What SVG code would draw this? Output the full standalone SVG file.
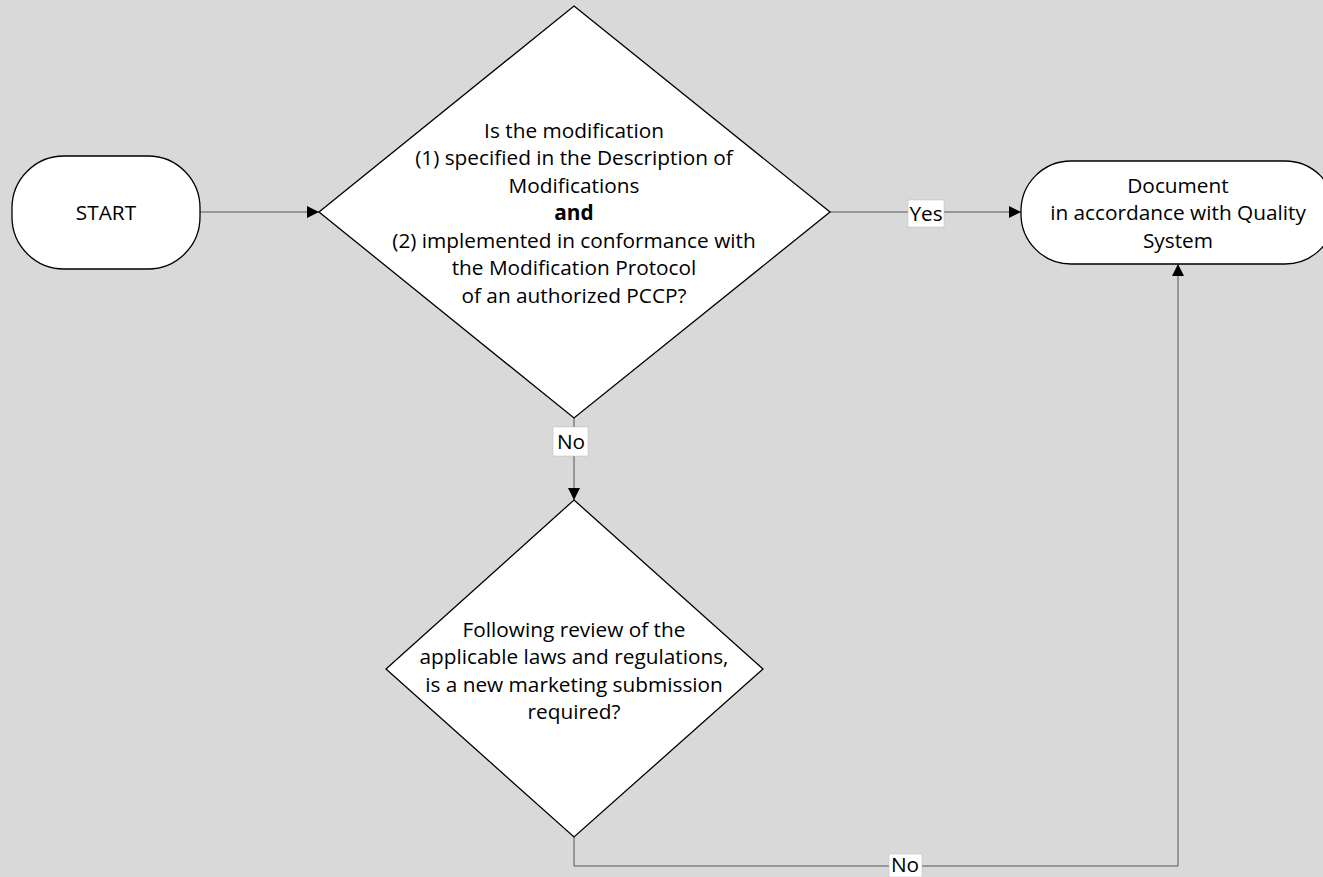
<svg xmlns="http://www.w3.org/2000/svg" width="1323" height="877" viewBox="0 0 1323 877">
<defs>
<style>
.node{fill:#fff;stroke:#000;stroke-width:1.3}
.t{font-family:"Open Sans","Liberation Sans",Arial,sans-serif;font-size:20.8px;fill:#000;text-anchor:middle}
.b{font-weight:bold}
.edge{fill:none;stroke:#555;stroke-width:1}
.lbl{fill:#fff;stroke:#bbb;stroke-width:0.5}
</style>
<marker id="arr" viewBox="0 0 10 10" refX="10" refY="5" markerWidth="12" markerHeight="12" markerUnits="userSpaceOnUse" orient="auto">
<path d="M0,0 L10,5 L0,10 z" fill="#000"/>
</marker>
</defs>
<rect width="1323" height="877" fill="#d9d9d9"/>
<g id="connectors">
<line class="edge" x1="200" y1="212" x2="319" y2="212" marker-end="url(#arr)"/>
<line class="edge" x1="830" y1="212" x2="1021" y2="212" marker-end="url(#arr)"/>
<line class="edge" x1="574" y1="418" x2="574" y2="500" marker-end="url(#arr)"/>
<polyline class="edge" points="574,837 574,866 1178,866 1178,264" marker-end="url(#arr)"/>
<rect class="lbl" x="908" y="200" width="36" height="27"/>
<text class="t" x="926" y="221">Yes</text>
<rect class="lbl" x="553" y="427" width="35" height="29"/>
<text class="t" x="571" y="449">No</text>
<rect class="lbl" x="889" y="854" width="33" height="23"/>
<text class="t" x="905" y="872">No</text>
</g>
<g id="start">
<rect class="node" x="12" y="156" width="188" height="113" rx="52" ry="52"/>
<text class="t" x="106" y="220">START</text>
</g>
<g id="decision1">
<polygon class="node" points="574,6 830,212 574,418 319,212"/>
<text class="t" x="574" y="138">Is the modification</text>
<text class="t" x="574" y="165">(1) specified in the Description of</text>
<text class="t" x="574" y="193">Modifications</text>
<text class="t b" x="574" y="220">and</text>
<text class="t" x="574" y="248">(2) implemented in conformance with</text>
<text class="t" x="574" y="275">the Modification Protocol</text>
<text class="t" x="574" y="303">of an authorized PCCP?</text>
</g>
<g id="document">
<rect class="node" x="1021" y="161" width="314" height="103" rx="50" ry="50"/>
<text class="t" x="1178" y="193">Document</text>
<text class="t" x="1178" y="220">in accordance with Quality</text>
<text class="t" x="1178" y="248">System</text>
</g>
<g id="decision2">
<polygon class="node" points="574,500 763,669 574,837 386,669"/>
<text class="t" x="574" y="637">Following review of the</text>
<text class="t" x="574" y="664">applicable laws and regulations,</text>
<text class="t" x="574" y="692">is a new marketing submission</text>
<text class="t" x="574" y="719">required?</text>
</g>
</svg>
